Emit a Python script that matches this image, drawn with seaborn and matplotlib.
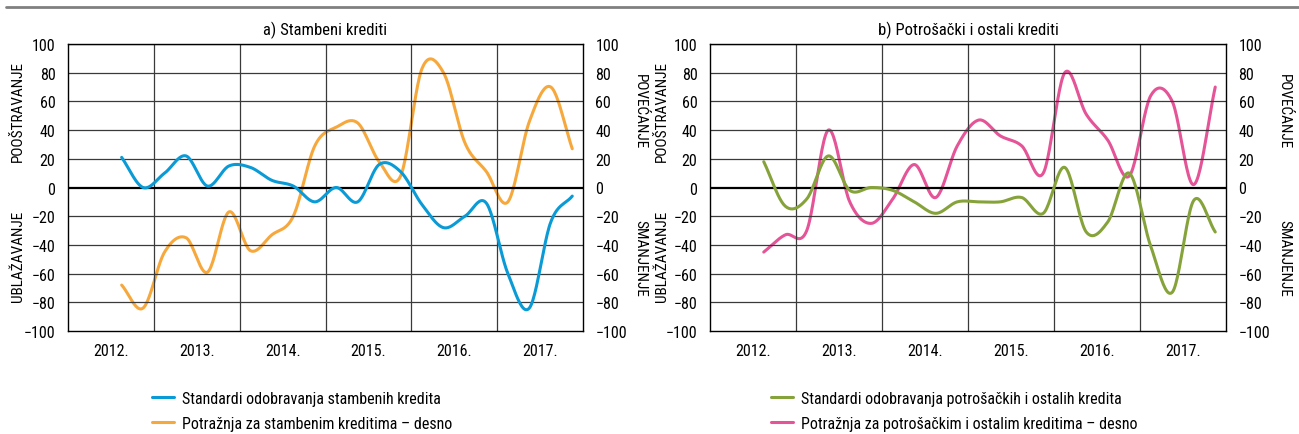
import numpy as np
import pandas as pd
import seaborn as sns
import matplotlib.pyplot as plt
from matplotlib.lines import Line2D
from matplotlib import font_manager

# quarterly data, Q3 2012 .. Q4 2017
quarters = ['2012Q3', '2012Q4',
            '2013Q1', '2013Q2', '2013Q3', '2013Q4',
            '2014Q1', '2014Q2', '2014Q3', '2014Q4',
            '2015Q1', '2015Q2', '2015Q3', '2015Q4',
            '2016Q1', '2016Q2', '2016Q3', '2016Q4',
            '2017Q1', '2017Q2', '2017Q3', '2017Q4']
years = ['2012.', '2013.', '2014.', '2015.', '2016.', '2017.']

stambeni_standardi = [21, 0, 10, 22, 1, 15, 14, 5, 1, -10, 0, -10,
                      16, 11, -12, -28, -20, -11, -60, -84, -24, -6]
stambeni_potraznja = [-68, -84, -45, -35, -59, -17, -44, -33, -20, 29, 42, 45,
                      18, 8, 83, 80, 31, 11, -10, 46, 70, 27]
potrosacki_standardi = [18, -13, -8, 22, -2, 0, -2, -10, -18, -10, -10, -10,
                        -7, -18, 14, -31, -24, 10, -41, -73, -9, -31]
potrosacki_potraznja = [-45, -33, -30, 40, -10, -25, -8, 16, -7, 29, 47, 36,
                        29, 10, 80, 51, 33, 8, 64, 60, 2, 70]

BLUE = '#0a9bd6'
ORANGE = '#f7a83c'
GREEN = '#86a33b'
PINK = '#e45497'

sns.set_style('white')
installed = {f.name for f in font_manager.fontManager.ttflist}
narrow = [f for f in ['Liberation Sans Narrow', 'Roboto Condensed',
                      'Open Sans Condensed', 'Liberation Sans']
          if f in installed]
plt.rcParams['font.family'] = narrow + ['DejaVu Sans']
plt.rcParams['font.stretch'] = 'condensed'
plt.rcParams['text.color'] = 'black'
plt.rcParams['xtick.color'] = 'black'
plt.rcParams['ytick.color'] = 'black'
FS = 11.5


def quarter_pos(q):
    # x position in years from start of 2012, centred in the quarter
    return int(q[:4]) - 2012 + (int(q[-1]) - 0.5) / 4


def smooth(x, y, n=24):
    # Catmull-Rom spline through the points (like Excel "smoothed line")
    x = np.asarray(x, float)
    y = np.asarray(y, float)
    px = np.concatenate([[2 * x[0] - x[1]], x, [2 * x[-1] - x[-2]]])
    py = np.concatenate([[2 * y[0] - y[1]], y, [2 * y[-1] - y[-2]]])
    xs, ys = [], []
    t = np.linspace(0, 1, n, endpoint=False)
    for i in range(1, len(px) - 2):
        for arr, out in ((px, xs), (py, ys)):
            p0, p1, p2, p3 = arr[i - 1], arr[i], arr[i + 1], arr[i + 2]
            out.extend(0.5 * (2 * p1 + (-p0 + p2) * t
                              + (2 * p0 - 5 * p1 + 4 * p2 - p3) * t ** 2
                              + (-p0 + 3 * p1 - 3 * p2 + p3) * t ** 3))
    xs.append(x[-1])
    ys.append(y[-1])
    return pd.DataFrame({'x': xs, 'y': ys})


xq = [quarter_pos(q) for q in quarters]

fig = plt.figure(figsize=(12.99, 4.35), dpi=100)
fig.add_artist(Line2D([0.005, 1.0], [1 - 8 / 435, 1 - 8 / 435],
                      color='#808080', lw=2))

panels = [
    (68, 583, 'a) Stambeni krediti', stambeni_standardi, stambeni_potraznja,
     BLUE, ORANGE, 'Standardi odobravanja stambenih kredita',
     'Potražnja za stambenim kreditima – desno', 18, 640, 152),
    (710, 1226, 'b) Potrošački i ostali krediti', potrosacki_standardi,
     potrosacki_potraznja, GREEN, PINK,
     'Standardi odobravanja potrošačkih i ostalih kredita',
     'Potražnja za potrošačkim i ostalim kreditima – desno', 662, 1284, 771),
]

W, H = 1299, 435
for (x0, x1, title, left_vals, right_vals, c1, c2, lab1, lab2,
     lx, rx, legx) in panels:
    ax = fig.add_axes([x0 / W, 1 - 332 / H, (x1 - x0) / W, (332 - 45) / H])
    ax2 = ax.twinx()
    for a in (ax, ax2):
        a.set_ylim(-100, 100)
        a.set_yticks(range(-100, 101, 20))
        a.tick_params(axis='y', length=0, pad=9, labelsize=FS)
        a.set_xlim(0, 6)
    ax.set_xticks(np.arange(6) + 0.5)
    ax.set_xticklabels(years)
    ax.tick_params(axis='x', length=0, pad=9, labelsize=FS)
    for y in range(-80, 101, 20):
        if y != 0:
            ax.axhline(y, color='#3a3a3a', lw=0.9, zorder=0)
    ax.axhline(0, color='black', lw=1.6, zorder=1)
    for xv in range(1, 6):
        ax.axvline(xv, color='#3a3a3a', lw=0.9, zorder=0)
    for s in ax.spines.values():
        s.set_color('black')
        s.set_linewidth(1)
    for s in ax2.spines.values():
        s.set_visible(False)

    d1 = smooth(xq, left_vals)
    d2 = smooth(xq, right_vals)
    sns.lineplot(data=d1, x='x', y='y', ax=ax, color=c1, lw=2.2,
                 sort=False, estimator=None)
    sns.lineplot(data=d2, x='x', y='y', ax=ax2, color=c2, lw=2.2,
                 sort=False, estimator=None)
    ax.set_xlabel('')
    ax.set_ylabel('')
    ax2.set_ylabel('')
    ax.set_zorder(ax2.get_zorder() + 1)
    ax.patch.set_visible(False)
    ax.set_title(title, fontsize=12, pad=7)

    # axis side texts
    fig.text(lx / W, 1 - 112 / H, 'POOŠTRAVANJE', rotation=90,
             ha='center', va='center', fontsize=11)
    fig.text(lx / W, 1 - 256 / H, 'UBLAŽAVANJE', rotation=90,
             ha='center', va='center', fontsize=11)
    fig.text(rx / W, 1 - 112 / H, 'POVEĆANJE', rotation=-90,
             ha='center', va='center', fontsize=11)
    fig.text(rx / W, 1 - 258 / H, 'SMANJENJE', rotation=-90,
             ha='center', va='center', fontsize=11)

    handles = [Line2D([], [], color=c1, lw=2.2), Line2D([], [], color=c2, lw=2.2)]
    fig.legend(handles, [lab1, lab2], loc='upper left',
               bbox_to_anchor=(legx / W, 1 - 392 / H), frameon=False,
               fontsize=FS, handlelength=1.35, handletextpad=0.55,
               labelspacing=0.6, borderpad=0, borderaxespad=0)

fig.savefig('out.png', dpi=100)
